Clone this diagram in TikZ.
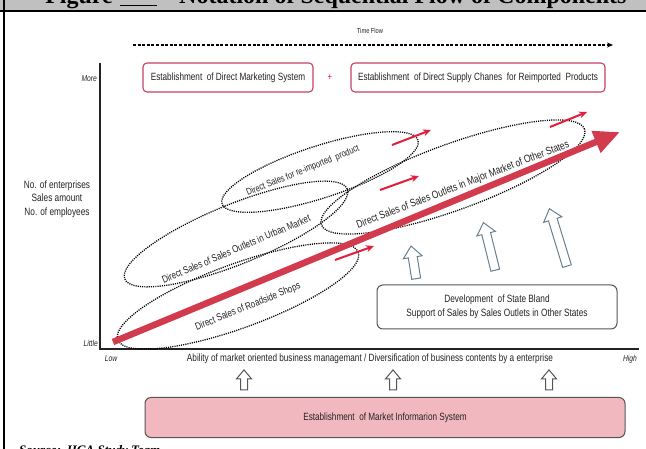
\documentclass[tikz,border=0pt]{standalone}
\usepackage{fontspec}
\setmainfont{Liberation Serif}
\newfontfamily\nar[FakeStretch=0.78]{Liberation Sans}
\usetikzlibrary{arrows.meta,shapes.geometric,shapes.arrows}
\definecolor{band}{RGB}{192,192,192}
\definecolor{boxred}{RGB}{196,66,98}
\definecolor{arrred}{RGB}{210,58,78}
\definecolor{thinred}{RGB}{226,30,60}
\definecolor{pinkfill}{RGB}{242,184,192}
\definecolor{steel}{RGB}{105,128,142}
\definecolor{ink}{RGB}{35,35,35}
\definecolor{edge}{RGB}{85,85,85}
\begin{document}
\begin{tikzpicture}[x=1pt,y=-1pt,
  lab/.style={text=ink,font=\nar\fontsize{10.6}{12}\selectfont,inner sep=0pt},
  axlab/.style={text=ink,font=\nar\itshape\fontsize{8.6}{10}\selectfont,inner sep=0pt},
  topbox/.style={draw=boxred,line width=1.1pt,rounded corners=4pt,fill=white,
    text=ink,font=\nar\fontsize{10.5}{12}\selectfont},
  ell/.style={ellipse,draw=black,line width=1.3pt,dash pattern=on 1.1pt off 1.1pt,inner sep=0pt},
  elltxt/.style={text=ink,font=\nar\fontsize{10.2}{12}\selectfont,inner sep=0pt},
  bigarr/.style={draw=arrred,line width=6.5pt,-{Triangle[length=26pt,width=22pt]}},
  redarr/.style={draw=thinred,line width=2pt,-{Stealth[length=8pt,width=7pt]}},
  axis/.style={draw=ink,line width=1.3pt},
  hollow/.style={single arrow,draw=steel,fill=white,line width=1pt,inner sep=0pt,
    single arrow head extend=5pt,single arrow tip angle=80},
  devbox/.style={draw=edge,line width=1pt,rounded corners=6pt,fill=white,
    text=ink,font=\nar\fontsize{10.6}{14}\selectfont,align=center},
  infobox/.style={draw=edge,line width=1pt,rounded corners=6pt,fill=pinkfill,
    text=ink,font=\nar\fontsize{10.5}{12}\selectfont}]
\useasboundingbox (0,0) rectangle (646,449);
\clip (0,0) rectangle (646,449);
\fill[white] (0,0) rectangle (646,449);

% title band across the top
\fill[band] (0,0) rectangle (646,11.5);
\node[anchor=base east,inner sep=0pt,font=\bfseries\fontsize{24}{24}\selectfont] (figw) at (113,3.5) {Figure};
\coordinate (ul0) at (120,5.5);
\coordinate (ul1) at (157,5.5);
\draw[line width=1.2pt] (ul0) -- (ul1);
\node[anchor=base west,inner sep=0pt,font=\bfseries\fontsize{24}{24}\selectfont] (ttl) at (179,3.5) {Notation of Sequential Flow of Components};
\draw[line width=2pt] (0,11.5) -- (646,11.5);
\draw[line width=2pt] (4,0) -- (4,449);

% time flow
\node[lab,font=\nar\fontsize{7.3}{8}\selectfont] (tf) at (370,31) {Time Flow};
\coordinate (tf0) at (133,45);
\coordinate (tf1) at (613,45);
\draw[line width=1.1pt,dash pattern=on 3pt off 1.6pt,-{Stealth[length=6pt,width=5pt]}] (tf0) -- (tf1);

% goal boxes
\node[topbox,minimum width=170pt,minimum height=29pt] (dms) at (228,77.5) {Establishment\ \ of Direct Marketing System};
\node[topbox,minimum width=254pt,minimum height=29pt] (dsc) at (478,77.5) {Establishment\ \ of Direct Supply Chanes\ \ for Reimported\ \ Products};
\node[text=thinred,inner sep=0pt,font=\nar\fontsize{10}{10}\selectfont] (plus) at (330,78) {+};

% axes
\coordinate (ytop) at (100,63);
\coordinate (orig) at (100,349);
\coordinate (xend) at (639,349);
\draw[axis] (ytop) -- (orig) -- (xend);
\node[axlab,anchor=east] (more) at (97,79) {More};
\node[axlab,anchor=east] (little) at (98,343) {Little};
\node[axlab] (low) at (111,359) {Low};
\node[axlab] (high) at (630,359) {High};
\node[lab,font=\nar\fontsize{10.5}{12}\selectfont] (xt) at (370,359) {Ability of market oriented business managemant / Diversification of business contents by a enterprise};
\node[lab,align=center,font=\nar\fontsize{10.6}{13.6}\selectfont] (yt) at (57,199) {No. of enterprises\\Sales amount\\No. of employees};

% dotted groups
\node[ell,rotate=20,minimum width=256pt,minimum height=64pt] (road) at (238,296) {};
\node[ell,rotate=22,minimum width=240pt,minimum height=60pt] (urban) at (236,234) {};
\node[ell,rotate=18,minimum width=206pt,minimum height=52pt] (reimp) at (320,172) {};
\node[ell,rotate=20,minimum width=280pt,minimum height=66pt] (major) at (453,177) {};
\node[elltxt,rotate=22] (roadt) at (248,307) {Direct Sales of Roadside Shops};
\node[elltxt,rotate=23] (urbant) at (236,249) {Direct Sales of Sales Outlets in Urban Market};
\node[elltxt,rotate=22,font=\nar\fontsize{9.6}{11}\selectfont] (reimpt) at (303,171) {Direct Sales for re-imported\ \ product};
\node[elltxt,rotate=21,font=\nar\fontsize{10.8}{12}\selectfont] (majort) at (463,185) {Direct Sales of Sales Outlets in Major Market of Other States};

% main growth arrow
\coordinate (g0) at (113,342);
\coordinate (g1) at (620,132);
\draw[bigarr] (g0) -- (g1);

% small step arrows
\coordinate (s1a) at (335,260); \coordinate (s1b) at (374,246);
\coordinate (s2a) at (380,190); \coordinate (s2b) at (419,176);
\coordinate (s3a) at (392,145); \coordinate (s3b) at (431,130);
\coordinate (s4a) at (550,127); \coordinate (s4b) at (587,112);
\draw[redarr] (s1a) -- (s1b);
\draw[redarr] (s2a) -- (s2b);
\draw[redarr] (s3a) -- (s3b);
\draw[redarr] (s4a) -- (s4b);

% support from other states
\node[devbox,minimum width=240pt,minimum height=44pt] (dev) at (497,307) {Development\ \ of State Bland\\Support of Sales by Sales Outlets in Other States};
\node[hollow,rotate=99,minimum height=33pt] (u1) at (414,265) {\rule{0pt}{8pt}};
\node[hollow,rotate=104,minimum height=49pt] (u2) at (490,249) {\rule{0pt}{8pt}};
\node[hollow,rotate=107,minimum height=60pt] (u3) at (559,240) {\rule{0pt}{8pt}};

% market information base
\node[hollow,draw=edge,rotate=90,minimum height=20pt,single arrow head extend=4pt] (b1) at (244,382) {\rule{0pt}{6pt}};
\node[hollow,draw=edge,rotate=90,minimum height=20pt,single arrow head extend=4pt] (b2) at (393,382) {\rule{0pt}{6pt}};
\node[hollow,draw=edge,rotate=90,minimum height=20pt,single arrow head extend=4pt] (b3) at (549,382) {\rule{0pt}{6pt}};
\node[infobox,minimum width=480pt,minimum height=40pt] (mis) at (385,417.5) {Establishment\ \ of Market Informarion System};

% source line
\node[anchor=base west,inner sep=0pt,font=\bfseries\itshape\fontsize{13}{13}\selectfont] (src) at (19,454) {Source: JICA Study Team};
\end{tikzpicture}
\end{document}
